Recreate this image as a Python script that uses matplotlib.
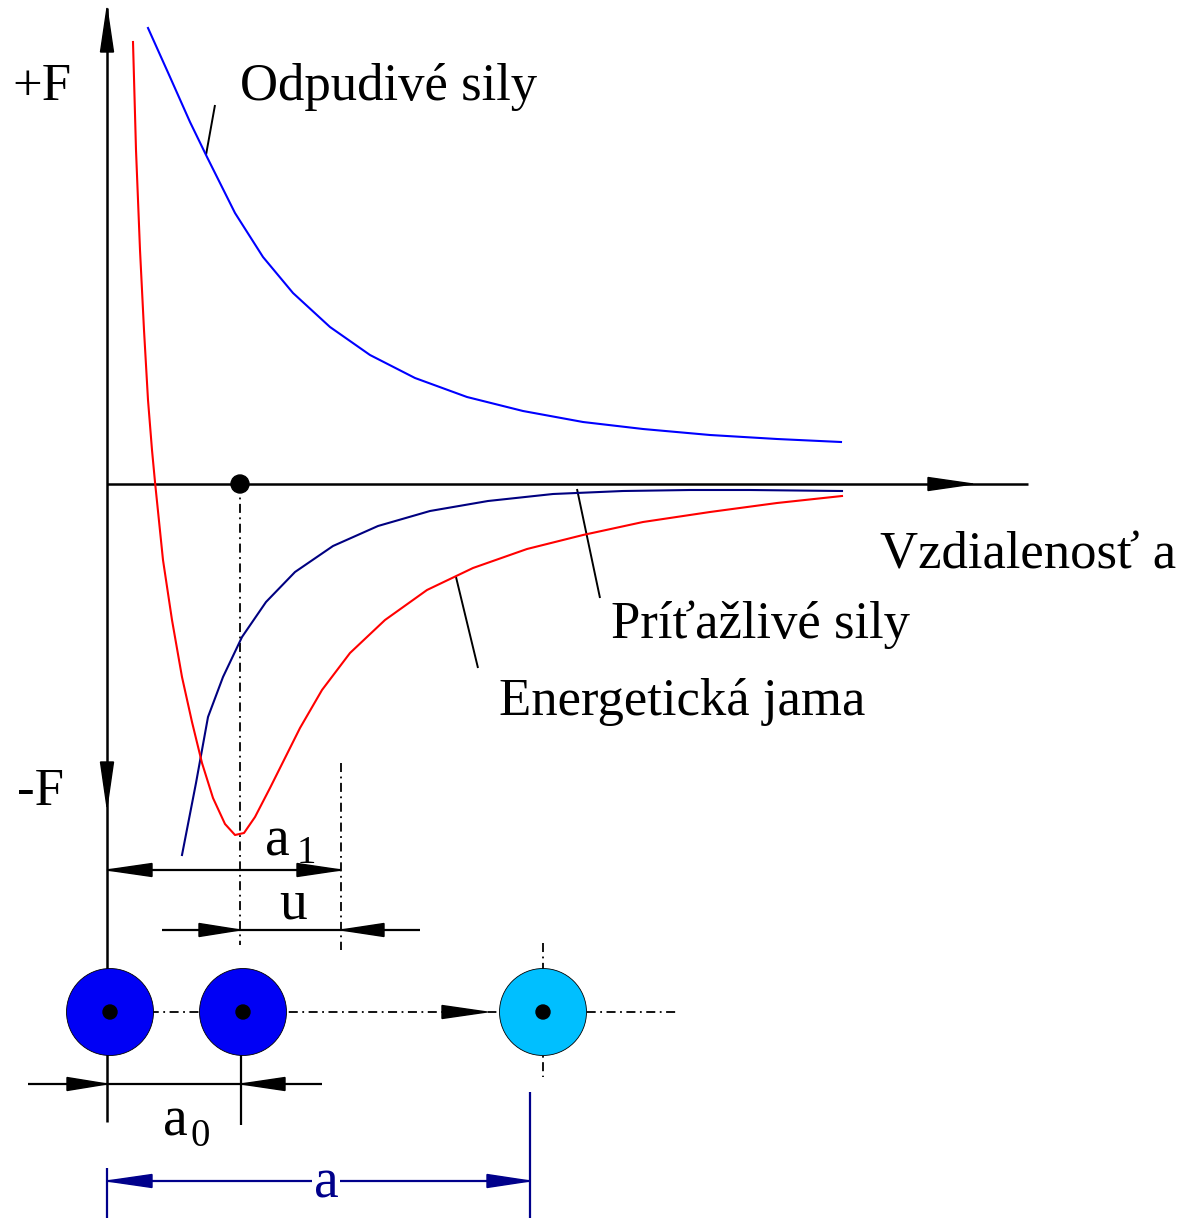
import numpy as np
import matplotlib
matplotlib.use('Agg')
import matplotlib.pyplot as plt
from matplotlib.patches import Polygon, Circle

# diagram units: x = distance from the F axis, F = force (up positive)
rep_x = [41, 63, 83, 100, 128, 156, 186, 223, 263, 308, 360, 416, 476, 536, 603, 670, 734]
rep_F = [456, 407, 362, 327, 271, 227, 191, 157, 129, 106, 87, 73, 62, 55, 49, 45, 42]

att_x = [75, 89, 101, 116, 135, 159, 188, 226, 271, 323, 381, 446, 516, 583, 643, 735]
att_F = [-371, -299, -233, -193, -153, -118, -88, -62, -42, -27, -17, -10, -7, -6, -6, -7]

en_x = [26, 29, 33, 37, 41, 45, 48, 56, 65, 75, 85, 95, 106, 118, 128, 137, 148, 163, 193,
        215, 243, 278, 320, 366, 420, 476, 536, 603, 670, 735]
en_F = [442, 334, 234, 154, 84, 34, 2, -76, -136, -193, -238, -279, -314, -340, -351, -349,
        -333, -304, -244, -206, -169, -136, -106, -84, -65, -51, -38, -28, -19, -12]

a0 = 133          # equilibrium distance
a1 = 234          # distance a1
a_far = 423       # distance a (third atom)
atom_x = [3, 136, 436]
atom_F = -528
atom_col = ['#0000f5', '#0000f5', '#00bfff']

RED = '#ff0000'
BLUE = '#0000ff'
NAVY = '#000080'
DNAVY = '#00008b'
DD = (0, (5, 2.5, 1, 2.5))
FONT = 'Liberation Serif'

fig = plt.figure(figsize=(11.86, 12.18), dpi=100)
ax = fig.add_axes([0, 0, 1, 1])
ax.set_xlim(-107, 1079)
ax.set_ylim(-734, 484)
ax.axis('off')


def head(tip, base, col='black', hw=6.5):
    (x1, y1), (x0, y0) = tip, base
    d = np.array([x1 - x0, y1 - y0], float)
    d /= np.hypot(*d)
    n = np.array([-d[1], d[0]]) * hw
    pts = [tip, (x0 + n[0], y0 + n[1]), (x0 - n[0], y0 - n[1])]
    ax.add_patch(Polygon(pts, closed=True, fc=col, ec=col, lw=1, zorder=6))


def ln(xs, ys, col='black', lw=1.6, ls='-', z=3):
    ax.plot(xs, ys, color=col, lw=lw, ls=ls, zorder=z, solid_capstyle='butt')


def txt(x, y, s, size=38, col='black', **kw):
    ax.text(x, y, s, fontsize=size, color=col, family=FONT, ha='left', va='baseline', **kw)


# axes
ln([0, 0], [476, -638], lw=1.8)
head((0, 476), (0, 432))
head((0, -323), (0, -278))
ln([0, 921], [0, 0], lw=1.8)
head((866, 0), (821, 0))

# curves
ax.plot(rep_x, rep_F, color=BLUE, lw=1.5, zorder=4)
ax.plot(att_x, att_F, color=NAVY, lw=1.5, zorder=4)
ax.plot(en_x, en_F, color=RED, lw=1.5, zorder=4)

# leaders
ln([108, 99], [379, 329], lw=1.4)
ln([470, 493], [-5, -114], lw=1.4)
ln([349, 371], [-93, -184], lw=1.4)

ax.add_patch(Circle((a0, 0), 9, fc='black', ec='black', zorder=7))

# a1 and u dimensions
ln([a0, a0], [0, -461], lw=1.3, ls=DD)
ln([a1, a1], [-279, -466], lw=1.3, ls=DD)
ln([0, a1], [-386, -386])
head((0, -386), (45, -386))
head((a1, -386), (190, -386))
ln([55, 313], [-446, -446])
head((a0, -446), (92, -446))
head((a1, -446), (277, -446))

# atoms
ln([3, 570], [atom_F, atom_F], lw=1.3, ls=DD, z=2)
ln([atom_x[2], atom_x[2]], [-459, -593], lw=1.3, ls=DD, z=2)
head((380, atom_F), (335, atom_F))
for cx, c in zip(atom_x, atom_col):
    ax.add_patch(Circle((cx, atom_F), 43.5, fc=c, ec='black', lw=0.6, zorder=5))
    ax.add_patch(Circle((cx, atom_F), 7, fc='black', ec='black', zorder=6))

# a0 dimension
ln([134, 134], [-571, -641])
ln([-79, 215], [-600, -600])
head((0, -600), (-40, -600))
head((134, -600), (178, -600))

# a dimension
ln([0, 0], [-684, -734], col=DNAVY)
ln([a_far, a_far], [-608, -734], col=DNAVY)
ln([0, a_far], [-697, -697], col=DNAVY)
head((0, -697), (45, -697), col=DNAVY)
head((a_far, -697), (380, -697), col=DNAVY)

# labels
txt(-95, 384, '+F')
txt(-90, -321, '-F')
txt(133, 384, 'Odpudivé sily')
txt(773, -84, 'Vzdialenosť a')
txt(504, -154, 'Príťažlivé sily')
txt(392, -231, 'Energetická jama')
txt(158, -371, 'a', size=40)
txt(190, -379, '1', size=28)
txt(172, -434, 'u', size=40)
txt(56, -652, 'a', size=40)
txt(84, -662, '0', size=28)
ax.text(219, -713, 'a', fontsize=40, color=DNAVY, family=FONT, ha='center', va='baseline',
        zorder=8, bbox=dict(fc='white', ec='none', pad=1))

fig.savefig('out.png', dpi=100)
